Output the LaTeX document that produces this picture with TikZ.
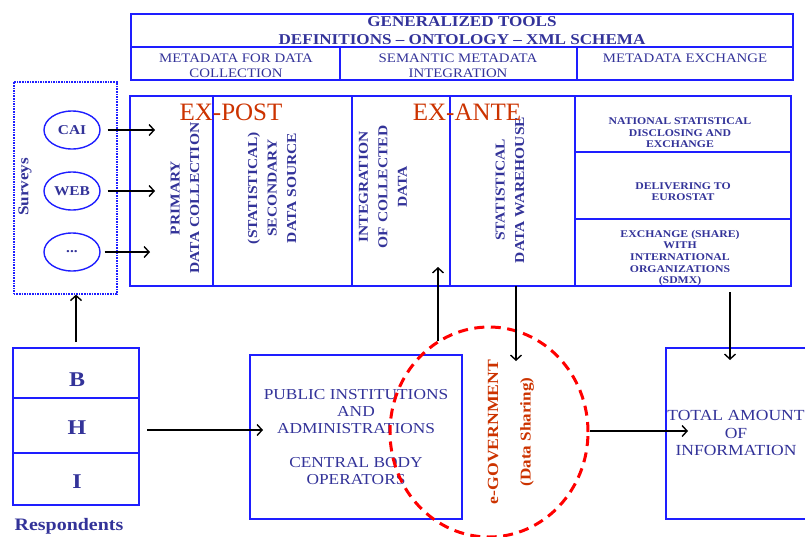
\documentclass[tikz,border=0pt]{standalone}
\usepackage{fontspec}
\setmainfont{Liberation Serif}[FakeStretch=1.14]
\newfontfamily\exfont{Liberation Serif}
\usetikzlibrary{arrows.meta,shapes.geometric}

\definecolor{boxblue}{RGB}{30,30,255}
\definecolor{txtblue}{RGB}{51,51,153}
\definecolor{exred}{RGB}{204,51,0}
\definecolor{circred}{RGB}{255,0,0}
\newcommand\fsz[2]{\fontsize{#1}{#2}\selectfont}

\begin{document}
\begin{tikzpicture}[x=1pt,y=-1pt,
  cell/.style={draw=boxblue, line width=1.4pt, rectangle, inner sep=0pt, outer sep=0pt, anchor=north west},
  txt/.style={text=txtblue, align=center, inner sep=0pt},
  vtxt/.style={txt, rotate=90, font=\fsz{13.6}{19.5}\bfseries},
  small/.style={txt, font=\fsz{10.3}{11.6}\bfseries},
  ex/.style={text=exred, inner sep=0pt, font=\exfont\fsz{25}{28}},
  arr/.style={-{Straight Barb[length=5pt,width=11pt]}, line width=1.4pt, black},
  bubble/.style={draw=boxblue, line width=1.4pt, ellipse, minimum width=56pt, minimum height=38pt, inner sep=0pt, text=txtblue, font=\fsz{13.5}{15}\bfseries}
]
\useasboundingbox (0,0) rectangle (805,536);

% ---- generalized tools header ----
\node[cell, minimum width=662pt, minimum height=33pt] (tools) at (131,14) {};
\node[cell, minimum width=209pt, minimum height=33pt] (mdc) at (131,47) {};
\node[cell, minimum width=237pt, minimum height=33pt] (smi) at (340,47) {};
\node[cell, minimum width=216pt, minimum height=33pt] (mde) at (577,47) {};
\node[txt, font=\fsz{15}{18}\bfseries] (toolst) at (462,31) {GENERALIZED TOOLS\\DEFINITIONS -- ONTOLOGY -- XML SCHEMA};
\node[txt, font=\fsz{13}{15}] (mdct) at (236,65.5) {METADATA FOR DATA\\COLLECTION};
\node[txt, font=\fsz{13}{15}] (smit) at (458,65.5) {SEMANTIC METADATA\\INTEGRATION};
\node[txt, font=\fsz{13}{15}] (mdet) at (685,58) {METADATA EXCHANGE};

% ---- main process block ----
\node[cell, minimum width=83pt, minimum height=190pt] (c1) at (130,96) {};
\node[cell, minimum width=139pt, minimum height=190pt] (c2) at (213,96) {};
\node[cell, minimum width=98pt, minimum height=190pt] (c3) at (352,96) {};
\node[cell, minimum width=125pt, minimum height=190pt] (c4) at (450,96) {};
\node[cell, minimum width=216pt, minimum height=56pt] (r1) at (575,96) {};
\node[cell, minimum width=216pt, minimum height=67pt] (r2) at (575,152) {};
\node[cell, minimum width=216pt, minimum height=67pt] (r3) at (575,219) {};

\node[vtxt] (c1t) at (185,198) {PRIMARY\\DATA COLLECTION};
\node[vtxt] (c2t) at (272,188) {(STATISTICAL)\\SECONDARY\\DATA SOURCE};
\node[vtxt] (c3t) at (383,187) {INTEGRATION\\OF COLLECTED\\DATA};
\node[vtxt] (c4t) at (510,190) {STATISTICAL\\DATA WAREHOUSE};
\node[small] (r1t) at (680,133) {NATIONAL STATISTICAL\\DISCLOSING AND\\EXCHANGE};
\node[small] (r2t) at (683,191.5) {DELIVERING TO\\EUROSTAT};
\node[small] (r3t) at (680,258) {EXCHANGE (SHARE)\\WITH\\INTERNATIONAL\\ORGANIZATIONS\\(SDMX)};

\node[ex] (expost) at (231,112) {EX-POST};
\node[ex] (exante) at (467,112) {EX-ANTE};

% ---- surveys ----
\node[draw=boxblue, line width=1.6pt, densely dotted, rectangle, minimum width=103pt, minimum height=212pt, anchor=north west, inner sep=0pt] (surveys) at (13,81) {};
\node[txt, rotate=90, font=\fsz{15}{17}\bfseries] (surveyst) at (25,187) {Surveys};
\node[bubble] (cai) at (72,130) {CAI};
\node[bubble] (web) at (72,191) {WEB};
\node[bubble] (dots) at (72,252) {...};
\coordinate (caiend) at (155,130);
\coordinate (webend) at (155,191);
\coordinate (dotsend) at (150,252);
\draw[arr] ([xshift=7pt]cai.east) -- (caiend);
\draw[arr] ([xshift=7pt]web.east) -- (webend);
\draw[arr] ([xshift=4pt]dots.east) -- (dotsend);

% ---- respondents ----
\node[cell, minimum width=126pt, minimum height=50pt] (rb) at (13,348) {};
\node[cell, minimum width=126pt, minimum height=55pt] (rh) at (13,398) {};
\node[cell, minimum width=126pt, minimum height=52pt] (ri) at (13,453) {};
\node[txt, font=\fsz{21}{24}\bfseries] (rbt) at (77,380) {B};
\node[txt, font=\fsz{21}{24}\bfseries] (rht) at (77,428) {H};
\node[txt, font=\fsz{21}{24}\bfseries] (rit) at (77,482) {I};
\node[txt, font=\fsz{17.5}{19}\bfseries] (respt) at (69,526) {Respondents};
\draw[arr] ([yshift=6pt]rb.north) -- (rb.north |- surveys.south);

% ---- public institutions ----
\node[cell, minimum width=212pt, minimum height=164pt] (pub) at (250,355) {};
\node[txt, font=\fsz{15.2}{17}] (pubt) at (356,437) {PUBLIC INSTITUTIONS\\AND\\ADMINISTRATIONS\\[17pt]CENTRAL BODY\\OPERATORS};
\coordinate (pubend) at (263,430);
\draw[arr] ([xshift=8pt]rh.east |- pubend) -- (pubend);

% ---- total amount of information ----
\node[cell, minimum width=170pt, minimum height=171pt] (tot) at (666,348) {};
\node[txt, font=\fsz{15.4}{17.5}] (tott) at (736,433) {TOTAL AMOUNT\\OF\\INFORMATION};

% ---- e-government ----
\node[draw=circred, line width=3pt, dash pattern=on 10pt off 6.5pt, ellipse, minimum width=198pt, minimum height=210pt, inner sep=0pt] (egov) at (489,432) {};
\node[rotate=90, text=exred, inner sep=0pt, font=\fsz{15.5}{17}\bfseries] (egovt) at (493,432) {e-GOVERNMENT};
\node[rotate=90, text=exred, inner sep=0pt, font=\fsz{15}{17}\bfseries] (sharet) at (527,432) {(Data Sharing)};

% ---- flows around the e-government circle ----
\coordinate (upstart) at (438,341);
\coordinate (upend) at (438,267);
\draw[arr] (upstart) -- (upend);
\coordinate (downstart) at (516,286);
\coordinate (downend) at (516,361);
\draw[arr] (downstart) -- (downend);
\coordinate (totstart) at (730,292);
\coordinate (totdown) at (730,360);
\draw[arr] (totstart) -- (totdown);
\coordinate (totend) at (688,431);
\draw[arr] (egov.east |- totend) -- (totend);
\end{tikzpicture}
\end{document}
